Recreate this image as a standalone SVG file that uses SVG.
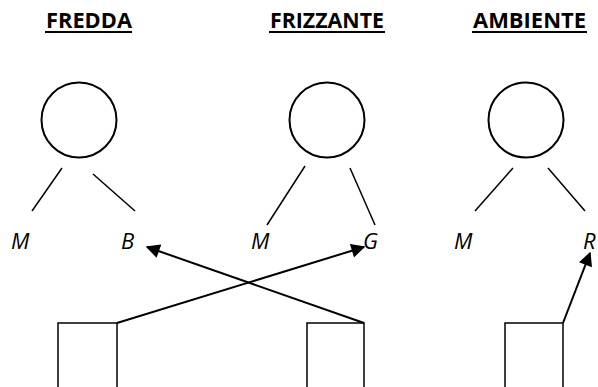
<svg xmlns="http://www.w3.org/2000/svg" width="598" height="387" viewBox="0 0 598 387">
  <style>
    .title { font-family: "Open Sans", "Liberation Sans", sans-serif; font-weight: bold; font-size: 22px; fill: #000; }
    .uline { stroke: #000; stroke-width: 1.8; }
    .head { fill: none; stroke: #000; stroke-width: 2; }
    .leg { stroke: #000; stroke-width: 1.5; fill: none; }
    .lbl { font-family: "Open Sans", "Liberation Sans", sans-serif; font-style: italic; font-size: 22px; fill: #000; }
    .box { fill: #fff; stroke: #000; stroke-width: 1.5; }
    .conn { stroke: #000; stroke-width: 2; fill: none; }
  </style>
  <defs>
    <marker id="arrow" viewBox="0 0 10 10" refX="9" refY="5" markerWidth="7.5" markerHeight="7" markerUnits="strokeWidth" orient="auto">
      <path d="M0,0 L10,5 L0,10 z" fill="#000"/>
    </marker>
  </defs>
  <rect width="598" height="387" fill="#fff"/>

  <g id="fredda">
    <text class="title" x="46" y="28" textLength="86" lengthAdjust="spacingAndGlyphs">FREDDA</text>
    <line class="uline" x1="45" y1="32" x2="132" y2="32"/>
    <circle class="head" cx="79" cy="120" r="37.5"/>
    <line class="leg" x1="62" y1="168" x2="32" y2="211"/>
    <line class="leg" x1="93" y1="174" x2="135" y2="211"/>
    <text class="lbl" x="11" y="249">M</text>
    <text class="lbl" x="121" y="249">B</text>
    <rect class="box" x="58" y="323" width="59" height="80"/>
  </g>

  <g id="frizzante">
    <text class="title" x="270" y="28" textLength="114" lengthAdjust="spacingAndGlyphs">FRIZZANTE</text>
    <line class="uline" x1="269" y1="32" x2="385" y2="32"/>
    <circle class="head" cx="327" cy="120" r="37.5"/>
    <line class="leg" x1="305" y1="166" x2="267" y2="225"/>
    <line class="leg" x1="350" y1="168" x2="375" y2="225"/>
    <text class="lbl" x="251" y="249">M</text>
    <text class="lbl" x="363" y="249">G</text>
    <rect class="box" x="307" y="323" width="57" height="80"/>
  </g>

  <g id="ambiente">
    <text class="title" x="473" y="28" textLength="113" lengthAdjust="spacingAndGlyphs">AMBIENTE</text>
    <line class="uline" x1="472" y1="32" x2="587" y2="32"/>
    <circle class="head" cx="526" cy="120" r="37.5"/>
    <line class="leg" x1="513" y1="168" x2="475" y2="211"/>
    <line class="leg" x1="548" y1="168" x2="585" y2="211"/>
    <text class="lbl" x="454" y="249">M</text>
    <text class="lbl" x="583" y="249">R</text>
    <rect class="box" x="505" y="323" width="58" height="80"/>
  </g>

  <g id="connectors">
    <line class="conn" x1="364" y1="323" x2="147" y2="247" marker-end="url(#arrow)"/>
    <line class="conn" x1="117" y1="323" x2="364" y2="247" marker-end="url(#arrow)"/>
    <line class="conn" x1="563" y1="323" x2="590" y2="253" marker-end="url(#arrow)"/>
  </g>
</svg>
